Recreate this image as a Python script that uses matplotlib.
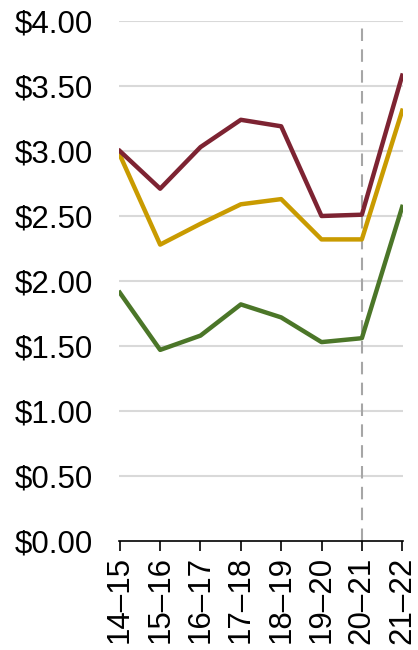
import matplotlib
matplotlib.use("Agg")
import matplotlib.pyplot as plt
from matplotlib.ticker import FuncFormatter

# Categories (school years) and the three series
years = ["14\u201315", "15\u201316", "16\u201317", "17\u201318",
         "18\u201319", "19\u201320", "20\u201321", "21\u201322"]
red_vals = [3.00, 2.71, 3.03, 3.24, 3.19, 2.50, 2.51, 3.58]
gold_vals = [2.97, 2.28, 2.44, 2.59, 2.63, 2.32, 2.32, 3.31]
green_vals = [1.91, 1.47, 1.58, 1.82, 1.72, 1.53, 1.56, 2.57]
yticks = [0, 0.5, 1.0, 1.5, 2.0, 2.5, 3.0, 3.5, 4.0]
marker_year = "20\u201321"

plt.rcParams['font.family'] = ['Liberation Sans', 'DejaVu Sans']

fig = plt.figure(figsize=(4.18, 6.5), dpi=100)
ax = fig.add_axes([119 / 418, 1 - 541 / 650, 284 / 418, 520 / 650])

x = list(range(len(years)))

# gridlines
for t in yticks[1:]:
    ax.axhline(t, color="#d9d9d9", lw=1.5, zorder=1)

# dashed marker line
ax.axvline(years.index(marker_year), color="#a6a6a6", lw=1.5,
           ls=(0, (6, 4)), zorder=2)

ax.plot(x, green_vals, color="#4b7628", lw=3.2, zorder=3)
ax.plot(x, gold_vals, color="#c99b00", lw=3.2, zorder=3)
ax.plot(x, red_vals, color="#7d2332", lw=3.2, zorder=4)

ax.set_xlim(-0.02, 7.02)
ax.set_ylim(0, 4.0)
ax.set_yticks(yticks)
ax.yaxis.set_major_formatter(FuncFormatter(lambda v, p: f"${v:.2f}"))
ax.set_xticks(x)
ax.set_xticklabels(years, rotation=90)

for s in ["top", "right", "left"]:
    ax.spines[s].set_visible(False)
ax.spines["bottom"].set_color("black")
ax.spines["bottom"].set_linewidth(1.2)

ax.tick_params(axis="y", length=0, pad=19, labelsize=22.5)
ax.tick_params(axis="x", length=7, width=1.2, pad=4, labelsize=22.5)

fig.savefig("out.png", dpi=100)
